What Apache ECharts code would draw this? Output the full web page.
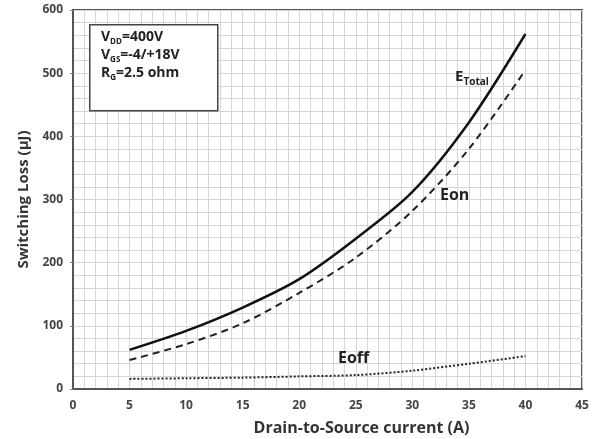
<!DOCTYPE html>
<html lang="en">
<head>
    <meta charset="UTF-8">
    <script src="https://cdn.jsdelivr.net/npm/echarts@6/dist/echarts.min.js"></script>
</head>
<body style="margin:0;background:#fff">

<div id="main" style="width: 608px;height:439px;"></div>

<script type="text/javascript">
    // drain current (A)
    var current = [5, 10, 15, 20, 25, 30, 35, 40];
    // switching loss (uJ)
    var eTotal = [62, 92, 129, 174, 238, 312, 422, 562];
    var eOn = [46, 71, 104, 152, 208, 282, 380, 505];
    var eOff = [16, 17, 18, 20, 22, 29, 40, 52];

    function pairs(ys) {
        return current.map(function (x, i) { return [x, ys[i]]; });
    }

    var myChart = echarts.init(document.getElementById('main'));
    var labelFont = 'Open Sans';
    var gridColor = '#d6d6d6';

    var option = {
        backgroundColor: '#fff',
        animation: false,
        grid: {
            left: 73, right: 26, top: 10, bottom: 50,
            outerBoundsMode: 'none', containLabel: false,
            show: true, borderColor: '#555', borderWidth: 2
        },
        // labelled axes + a fine hidden pair that only draws the graph-paper grid
        xAxis: [{
            type: 'value', min: 0, max: 45, interval: 5,
            name: 'Drain-to-Source current (A)',
            nameLocation: 'middle', nameGap: 31,
            nameTextStyle: {fontFamily: labelFont, fontWeight: 'bold', fontSize: 16, color: '#333', padding: [0, 0, 0, 68]},
            axisLine: {show: true, lineStyle: {color: '#555', width: 2}},
            axisTick: {show: false},
            axisLabel: {fontFamily: labelFont, fontWeight: 'bold', fontSize: 12, color: '#444', margin: 11},
            splitLine: {show: false}
        }, {
            type: 'value', min: 0, max: 45, interval: 1, position: 'bottom',
            axisLine: {show: false}, axisTick: {show: false}, axisLabel: {show: false},
            splitLine: {show: true, lineStyle: {color: gridColor, width: 1}}
        }],
        yAxis: [{
            type: 'value', min: 0, max: 600, interval: 100,
            name: 'Switching Loss (µJ)',
            nameLocation: 'middle', nameGap: 41,
            nameTextStyle: {fontFamily: labelFont, fontWeight: 'bold', fontSize: 15, color: '#333'},
            axisLine: {show: true, lineStyle: {color: '#555', width: 2}},
            axisTick: {show: true, length: 3, lineStyle: {color: '#888'}},
            axisLabel: {fontFamily: labelFont, fontWeight: 'bold', fontSize: 12, color: '#444', margin: 10},
            splitLine: {show: false}
        }, {
            type: 'value', min: 0, max: 600, interval: 20, position: 'left',
            axisLine: {show: false}, axisTick: {show: false}, axisLabel: {show: false},
            splitLine: {show: true, lineStyle: {color: gridColor, width: 1}}
        }],
        title: [
            {
                left: 101, top: 28, itemGap: 0, padding: 0,
                text: '{a|V}{s|DD}{a|=400V}\n{a|V}{s|GS}{a|=-4/+18V}\n{a|R}{s|G}{a|=2.5 ohm}',
                textStyle: {
                    rich: {
                        a: {fontFamily: labelFont, fontWeight: 'bold', fontSize: 14, color: '#222', lineHeight: 18},
                        s: {fontFamily: labelFont, fontWeight: 'bold', fontSize: 8, color: '#222', lineHeight: 18, verticalAlign: 'bottom'}
                    }
                }
            },
            {
                left: 455, top: 67, padding: 0,
                text: '{a|E}{s|Total}',
                textStyle: {
                    rich: {
                        a: {fontFamily: labelFont, fontWeight: 'bold', fontSize: 15, color: '#222', lineHeight: 20},
                        s: {fontFamily: labelFont, fontWeight: 'bold', fontSize: 10, color: '#222', lineHeight: 20, verticalAlign: 'bottom'}
                    }
                }
            },
            {
                left: 440, top: 187, padding: 0, text: 'Eon',
                textStyle: {fontFamily: labelFont, fontWeight: 'bold', fontSize: 16, color: '#222'}
            },
            {
                left: 338, top: 350, padding: 0, text: 'Eoff',
                textStyle: {fontFamily: labelFont, fontWeight: 'bold', fontSize: 16, color: '#222'}
            }
        ],
        series: [
            {
                name: 'ETotal', type: 'line', smooth: 0.3, symbol: 'none',
                data: pairs(eTotal),
                lineStyle: {color: '#111', width: 2.5, type: 'solid'}
            },
            {
                name: 'Eon', type: 'line', smooth: 0.3, symbol: 'none',
                data: pairs(eOn),
                lineStyle: {color: '#222', width: 2, type: [7, 5]}
            },
            {
                name: 'Eoff', type: 'line', smooth: 0.3, symbol: 'none',
                data: pairs(eOff),
                lineStyle: {color: '#222', width: 2, type: [2, 2]}
            }
        ],
        graphic: [
            {
                type: 'rect', left: 89, top: 24, z: 1,
                shape: {width: 128, height: 86},
                style: {fill: '#fff', stroke: '#444', lineWidth: 1.5}
            }
        ]
    };

    myChart.setOption(option);
</script>
</body>
</html>
